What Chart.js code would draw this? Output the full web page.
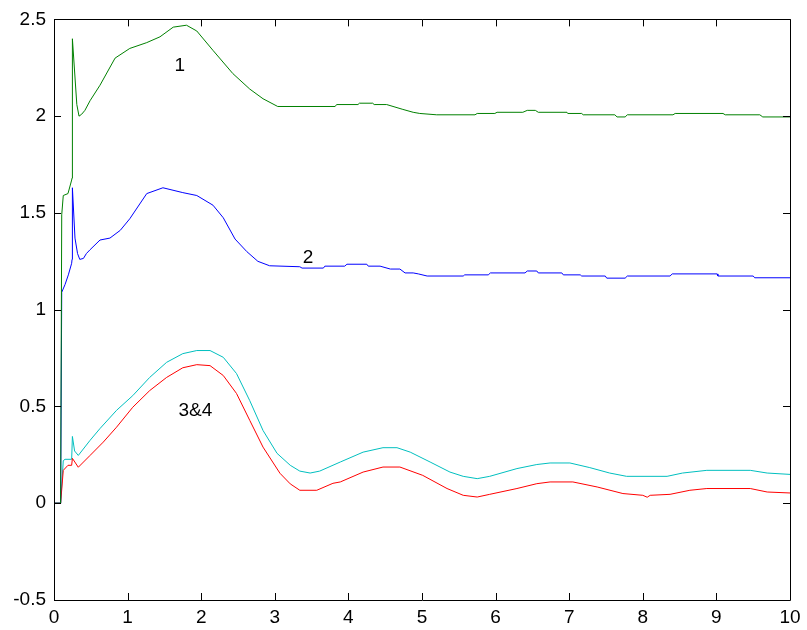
<!DOCTYPE html>
<html>
<head>
<meta charset="utf-8">
<script src="https://cdn.jsdelivr.net/npm/chart.js@4.4.0/dist/chart.umd.min.js"></script>
<style>
  html, body { margin: 0; padding: 0; background: #fff; }
  #grafica { display: block; }
</style>
</head>
<body>
<canvas id="grafica" width="807" height="630"></canvas>
<script>
// curva 1 (verde)
const t1 = [0, 0.09, 0.105, 0.126, 0.19, 0.24, 0.245, 0.25, 0.31, 0.34, 0.376, 0.42, 0.49, 0.625, 0.83, 1.03, 1.26, 1.44, 1.62, 1.80, 1.94, 2.16, 2.43, 2.66, 2.84, 3.04, 3.82, 3.84, 4.13, 4.15, 4.33, 4.35, 4.52, 4.74, 4.88, 4.97, 5.20, 5.72, 5.75, 5.99, 6.02, 6.37, 6.43, 6.54, 6.58, 6.97, 6.98, 7.17, 7.19, 7.62, 7.65, 7.76, 7.79, 8.41, 8.44, 9.09, 9.12, 9.59, 9.63, 10];
const v1 = [0, 0, 1.49, 1.59, 1.60, 1.67, 1.68, 2.40, 2.06, 2.00, 2.01, 2.03, 2.08, 2.16, 2.30, 2.35, 2.38, 2.41, 2.46, 2.47, 2.44, 2.34, 2.22, 2.14, 2.09, 2.05, 2.05, 2.06, 2.06, 2.067, 2.067, 2.06, 2.06, 2.035, 2.02, 2.014, 2.007, 2.007, 2.014, 2.014, 2.02, 2.02, 2.03, 2.03, 2.02, 2.02, 2.014, 2.014, 2.007, 2.007, 1.996, 1.996, 2.007, 2.007, 2.014, 2.014, 2.007, 2.007, 1.996, 1.996];

// curva 2 (azul)
const t2 = [0, 0.09, 0.105, 0.15, 0.195, 0.24, 0.245, 0.25, 0.285, 0.32, 0.35, 0.40, 0.44, 0.49, 0.625, 0.76, 0.90, 1.03, 1.26, 1.48, 1.75, 1.94, 2.16, 2.30, 2.46, 2.62, 2.77, 2.93, 3.34, 3.37, 3.66, 3.68, 3.95, 3.98, 4.25, 4.27, 4.43, 4.57, 4.70, 4.77, 4.88, 4.95, 5.07, 5.56, 5.58, 5.90, 5.93, 6.40, 6.43, 6.56, 6.58, 6.90, 6.92, 7.15, 7.17, 7.49, 7.51, 7.76, 7.79, 8.37, 8.40, 9.01, 9.02, 9.50, 9.52, 10];
const v2 = [0, 0, 1.09, 1.13, 1.18, 1.24, 1.26, 1.63, 1.37, 1.29, 1.26, 1.265, 1.29, 1.31, 1.36, 1.37, 1.41, 1.47, 1.60, 1.63, 1.605, 1.59, 1.54, 1.475, 1.365, 1.30, 1.25, 1.227, 1.222, 1.215, 1.215, 1.225, 1.225, 1.235, 1.235, 1.225, 1.225, 1.21, 1.21, 1.19, 1.19, 1.185, 1.174, 1.174, 1.18, 1.18, 1.19, 1.19, 1.20, 1.20, 1.19, 1.19, 1.18, 1.18, 1.174, 1.174, 1.163, 1.163, 1.174, 1.174, 1.185, 1.185, 1.174, 1.174, 1.165, 1.165];

// curva 3 (rojo)
const t3 = [0, 0.09, 0.126, 0.19, 0.24, 0.25, 0.33, 0.49, 0.67, 0.85, 1.07, 1.30, 1.53, 1.75, 1.94, 2.12, 2.30, 2.48, 2.66, 2.84, 3.07, 3.21, 3.34, 3.57, 3.79, 3.89, 4.20, 4.47, 4.70, 5.01, 5.34, 5.56, 5.75, 5.92, 6.29, 6.56, 6.74, 7.05, 7.38, 7.73, 8.00, 8.06, 8.10, 8.37, 8.64, 8.87, 9.46, 9.69, 10];
const v3 = [0, 0, 0.17, 0.196, 0.196, 0.232, 0.186, 0.247, 0.316, 0.393, 0.496, 0.582, 0.65, 0.70, 0.716, 0.711, 0.66, 0.567, 0.428, 0.29, 0.155, 0.10, 0.067, 0.067, 0.103, 0.11, 0.161, 0.187, 0.187, 0.144, 0.076, 0.041, 0.032, 0.046, 0.076, 0.101, 0.11, 0.11, 0.084, 0.05, 0.041, 0.031, 0.041, 0.046, 0.067, 0.076, 0.076, 0.058, 0.053];

// curva 4 (cian)
const t4 = [0, 0.09, 0.126, 0.15, 0.24, 0.25, 0.28, 0.33, 0.49, 0.625, 0.85, 1.07, 1.30, 1.53, 1.75, 1.94, 2.12, 2.30, 2.48, 2.66, 2.84, 3.03, 3.21, 3.34, 3.48, 3.61, 3.89, 4.20, 4.47, 4.66, 4.84, 5.11, 5.38, 5.56, 5.75, 5.92, 6.29, 6.56, 6.74, 7.01, 7.28, 7.55, 7.78, 8.33, 8.54, 8.87, 9.46, 9.69, 10];
const v4 = [0, 0, 0.22, 0.227, 0.227, 0.345, 0.27, 0.247, 0.325, 0.386, 0.48, 0.556, 0.65, 0.728, 0.773, 0.789, 0.789, 0.754, 0.67, 0.53, 0.376, 0.258, 0.196, 0.166, 0.156, 0.166, 0.213, 0.264, 0.287, 0.287, 0.264, 0.213, 0.161, 0.139, 0.127, 0.139, 0.179, 0.20, 0.208, 0.208, 0.184, 0.156, 0.139, 0.139, 0.156, 0.17, 0.17, 0.156, 0.149];

// etiquetas de texto sobre las curvas
const etiquetas = ['1', '2', '3&4'];
const etiquetasX = [1.71, 3.45, 1.92];
const etiquetasY = [2.26, 1.27, 0.48];

const ticksX = [0, 1, 2, 3, 4, 5, 6, 7, 8, 9, 10];
const ticksY = [-0.5, 0, 0.5, 1, 1.5, 2, 2.5];

const fuente = '"Liberation Sans", Arial, Helvetica, sans-serif';

function puntos(t, v) {
    return t.map((x, i) => ({ x: x, y: v[i] }));
}

function serie(t, v, color) {
    return {
        data: puntos(t, v),
        borderColor: color,
        borderWidth: 1,
        pointRadius: 0,
        tension: 0,
        fill: false
    };
}

// marco y marcas hacia dentro, estilo matlab
const marco = {
    id: 'marco',
    afterDraw(chart) {
        const ctx = chart.ctx;
        const a = chart.chartArea;
        const sx = chart.scales.x;
        const sy = chart.scales.y;
        const len = 7;
        ctx.save();
        ctx.strokeStyle = '#000';
        ctx.lineWidth = 1;
        ctx.beginPath();
        ctx.rect(Math.round(a.left) + 0.5, Math.round(a.top) + 0.5, Math.round(a.right - a.left), Math.round(a.bottom - a.top));
        ctx.stroke();
        ctx.beginPath();
        ticksX.forEach(v => {
            const px = Math.round(sx.getPixelForValue(v)) + 0.5;
            ctx.moveTo(px, a.bottom);
            ctx.lineTo(px, a.bottom - len);
            ctx.moveTo(px, a.top);
            ctx.lineTo(px, a.top + len);
        });
        ticksY.forEach(v => {
            const py = Math.round(sy.getPixelForValue(v)) + 0.5;
            ctx.moveTo(a.left, py);
            ctx.lineTo(a.left + len, py);
            ctx.moveTo(a.right, py);
            ctx.lineTo(a.right - len, py);
        });
        ctx.stroke();

        ctx.fillStyle = '#000';
        ctx.font = '19px ' + fuente;
        ctx.textAlign = 'center';
        ctx.textBaseline = 'middle';
        etiquetas.forEach((txt, i) => {
            ctx.fillText(txt, sx.getPixelForValue(etiquetasX[i]), sy.getPixelForValue(etiquetasY[i]));
        });
        ctx.restore();
    }
};

const ctx = document.getElementById('grafica').getContext('2d');
new Chart(ctx, {
    type: 'line',
    data: {
        datasets: [
            serie(t1, v1, 'rgb(0,128,0)'),
            serie(t2, v2, 'rgb(0,0,255)'),
            serie(t3, v3, 'rgb(255,0,0)'),
            serie(t4, v4, 'rgb(0,191,191)')
        ]
    },
    options: {
        responsive: false,
        animation: false,
        layout: { padding: { left: 0, right: 17, top: 18, bottom: 0 } },
        plugins: {
            legend: { display: false },
            tooltip: { enabled: false }
        },
        scales: {
            x: {
                type: 'linear',
                min: 0,
                max: 10,
                afterFit(scale) { scale.height = 30; },
                afterBuildTicks(scale) { scale.ticks = ticksX.map(v => ({ value: v })); },
                grid: { display: false, drawTicks: false },
                border: { display: false },
                ticks: {
                    color: '#000',
                    padding: 6,
                    maxRotation: 0,
                    autoSkip: false,
                    font: { family: fuente, size: 19 },
                    callback: v => String(v)
                }
            },
            y: {
                type: 'linear',
                min: -0.5,
                max: 2.5,
                afterFit(scale) { scale.width = 54; },
                afterBuildTicks(scale) { scale.ticks = ticksY.map(v => ({ value: v })); },
                grid: { display: false, drawTicks: false },
                border: { display: false },
                ticks: {
                    color: '#000',
                    padding: 8,
                    autoSkip: false,
                    font: { family: fuente, size: 19 },
                    callback: v => String(v)
                }
            }
        }
    },
    plugins: [marco]
});
</script>
</body>
</html>
